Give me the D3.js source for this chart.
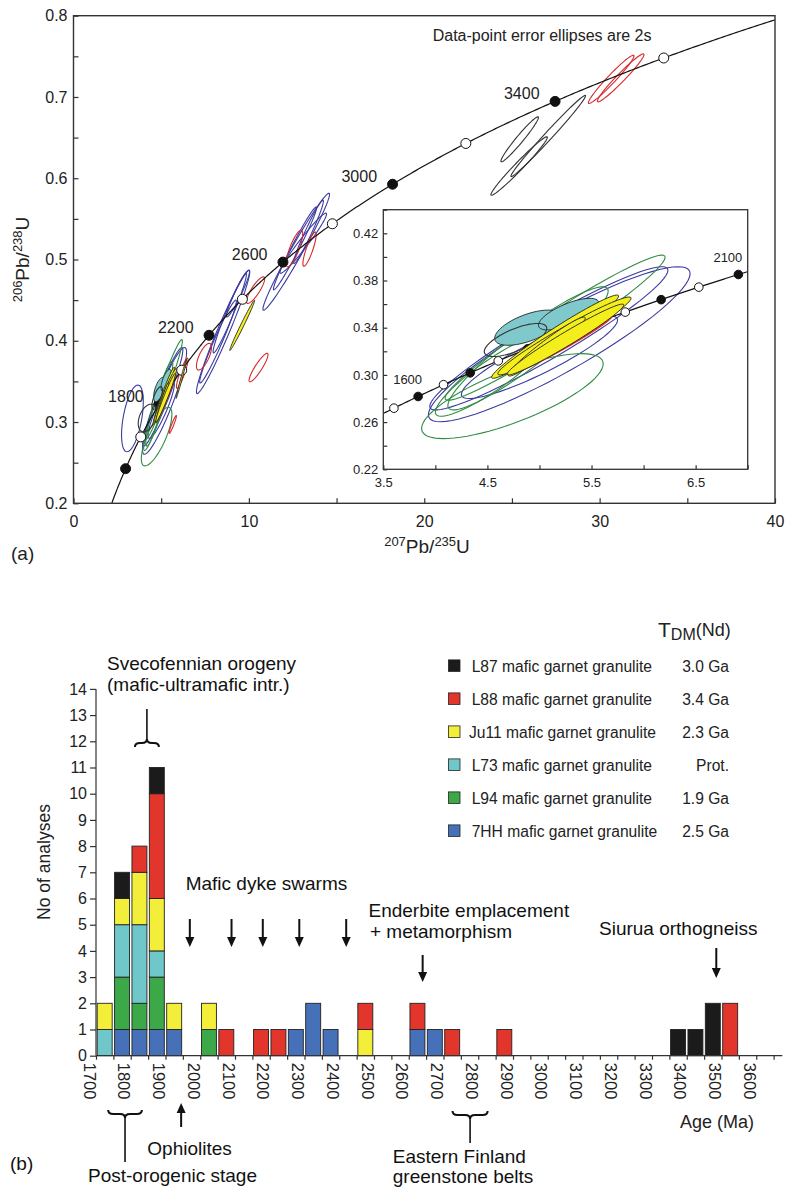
<!DOCTYPE html>
<html>
<head>
<meta charset="utf-8">
<script src="https://cdn.jsdelivr.net/npm/d3@7"></script>
<style>
body { margin: 0; background: #fff; }
svg { display: block; font-family: Arial, "Liberation Sans", Helvetica, sans-serif; }
</style>
</head>
<body>
<script>
// ---------- (a) concordia ----------
var lambda238 = 1.55125e-4, lambda235 = 9.8485e-4;   // decay constants, per Ma
var markerAges = [1400, 1600, 1800, 2000, 2200, 2400, 2600, 2800, 3000, 3200, 3400, 3600];
var labelAges = [1800, 2200, 2600, 3000, 3400];
var insetMarkerAges = [1550, 1600, 1650, 1700, 1750, 1800, 1850, 1900, 1950, 2000, 2050, 2100];
var insetLabelAges = [1600, 2100];
var xTicksMain = [0, 5, 10, 15, 20, 25, 30, 35, 40];
var yTicksMain = [0.2, 0.25, 0.3, 0.35, 0.4, 0.45, 0.5, 0.55, 0.6, 0.65, 0.7, 0.75, 0.8];
var xTicksInset = [3.5, 4, 4.5, 5, 5.5, 6, 6.5, 7];
var yTicksInset = [0.22, 0.24, 0.26, 0.28, 0.3, 0.32, 0.34, 0.36, 0.38, 0.4, 0.42, 0.44];

// ellipses: [207Pb/235U, 206Pb/238U, 2s x, 2s y, rho]
var clusterBlue = [[5.19, 0.326, 1.257, 0.0657, 0.91], [5.09, 0.331, 1.144, 0.0607, 0.95], [5.00, 0.315, 0.75, 0.035, 0.9]];
var clusterGreen = [[4.74, 0.282, 0.872, 0.036, 0.76], [5.15, 0.340, 1.057, 0.0615, 0.97],
                    [4.89, 0.3225, 0.77, 0.0522, 0.93], [4.55, 0.300, 0.55, 0.035, 0.9]];
var clusterCyan = [[4.89, 0.340, 0.32, 0.0149, 0.6], [5.28, 0.3515, 0.29, 0.0134, 0.7]];
var clusterBlack = [[4.77, 0.3296, 0.30, 0.014, 0.7]];
var clusterRed = [[5.2, 0.325, 0.5, 0.025, 0.98]];
var clusterYellow = [[5.15, 0.3324, 0.61, 0.0353, 0.975], [5.24, 0.333, 0.64, 0.033, 0.97],
                     [5.07, 0.324, 0.37, 0.025, 0.965], [5.25, 0.330, 0.56, 0.030, 0.975]];

var mainBlue = [[3.36, 0.3045, 0.62, 0.041, 0.5], [8.53, 0.411, 1.52, 0.076, 0.97], [8.24, 0.399, 1.045, 0.051, 0.97],
                [8.91, 0.434, 0.95, 0.049, 0.97], [9.38, 0.458, 0.66, 0.0287, 0.95], [12.7, 0.5095, 1.9, 0.072, 0.98],
                [12.63, 0.5136, 1.23, 0.051, 0.98], [13.1, 0.52, 1.33, 0.037, 0.97], [13.4, 0.534, 0.85, 0.039, 0.97]];
var mainBlack = [[4.21, 0.305, 0.52, 0.017, 0.4], [25.44, 0.6479, 1.07, 0.0277, 0.97],
                 [25.41, 0.615, 1.61, 0.036, 0.98], [27.07, 0.652, 2.13, 0.050, 0.99]];
var mainRed = [[5.66, 0.297, 0.21, 0.011, 0.95], [6.2, 0.36, 0.33, 0.0185, 0.9], [7.44, 0.3804, 0.43, 0.0164, 0.7],
               [10.38, 0.4623, 0.52, 0.0164, 0.85], [10.55, 0.367, 0.54, 0.0175, 0.9], [12.6, 0.5135, 0.47, 0.0225, 0.8],
               [13.46, 0.5127, 0.38, 0.021, 0.85], [30.66, 0.7217, 1.3, 0.0297, 0.97], [31.2, 0.7235, 1.33, 0.0295, 0.97]];
var mainYellow = [[6.15, 0.353, 0.3, 0.024, 0.99], [9.62, 0.419, 0.71, 0.031, 0.99]];

// ---------- (b) histogram ----------
var binStarts = [1700, 1750, 1800, 1850, 1900, 2000, 2050, 2150, 2200, 2250, 2300, 2350, 2450, 2600, 2650, 2700, 2850, 3350, 3400, 3450, 3500];
var s7HH = [0, 1, 1, 1, 1, 0, 0, 0, 0, 1, 2, 1, 0, 1, 1, 0, 0, 0, 0, 0, 0];
var sL94 = [0, 2, 1, 2, 0, 1, 0, 0, 0, 0, 0, 0, 0, 0, 0, 0, 0, 0, 0, 0, 0];
var sL73 = [1, 2, 3, 1, 0, 0, 0, 0, 0, 0, 0, 0, 0, 0, 0, 0, 0, 0, 0, 0, 0];
var sJu11 = [1, 1, 2, 2, 1, 1, 0, 0, 0, 0, 0, 0, 1, 0, 0, 0, 0, 0, 0, 0, 0];
var sL88 = [0, 0, 1, 4, 0, 0, 1, 1, 1, 0, 0, 0, 1, 1, 0, 1, 1, 0, 0, 0, 2];
var sL87 = [0, 1, 0, 1, 0, 0, 0, 0, 0, 0, 0, 0, 0, 0, 0, 0, 0, 1, 1, 2, 0];
var sampleKeys = ["7HH", "L94", "L73", "Ju11", "L88", "L87"];
var sampleColors = { "L87": "#1b1b1b", "L88": "#e2352c", "Ju11": "#f2ee3a", "L73": "#70c7c9", "L94": "#3ca848", "7HH": "#4670b8" };
var legendKeys = ["L87", "L88", "Ju11", "L73", "L94", "7HH"];
var legendTdm = ["3.0 Ga", "3.4 Ga", "2.3 Ga", "Prot.", "1.9 Ga", "2.5 Ga"];
var ageTicks = [1700, 1750, 1800, 1850, 1900, 1950, 2000, 2050, 2100, 2150, 2200, 2250, 2300, 2350, 2400, 2450, 2500,
                2550, 2600, 2650, 2700, 2750, 2800, 2850, 2900, 2950, 3000, 3050, 3100, 3150, 3200, 3250, 3300, 3350,
                3400, 3450, 3500, 3550, 3600, 3650];
var countTicks = [0, 1, 2, 3, 4, 5, 6, 7, 8, 9, 10, 11, 12, 13, 14];
var dykeAges = [1970, 2090, 2180, 2285, 2420];

function r206(t) { return Math.exp(lambda238 * t) - 1; }
function r207(t) { return Math.exp(lambda235 * t) - 1; }

function ellipsePath(e, xs, ys) {
    var pts = d3.range(72).map(function(i) {
        var a = i / 72 * 2 * Math.PI, c = Math.cos(a), s = Math.sin(a);
        return [xs(e[0] + e[2] * c), ys(e[1] + e[3] * (e[4] * c + Math.sqrt(1 - e[4] * e[4]) * s))];
    });
    return d3.line().curve(d3.curveLinearClosed)(pts);
}

function drawEllipses(g, data, xs, ys, stroke, fill) {
    g.append("g").selectAll("path")
        .data(data)
        .enter()
        .append("path")
        .attr("d", function(d) { return ellipsePath(d, xs, ys); })
        .attr("fill", fill || "none")
        .attr("stroke", stroke)
        .attr("stroke-width", fill ? 0.9 : 1.1);
}

function styleAxis(g, size) {
    g.select(".domain").remove();
    g.selectAll("line").attr("stroke", "#333").attr("stroke-width", 1.2);
    g.selectAll("text").attr("fill", "#222").style("font-size", size + "px")
        .style("font-family", "Arial, 'Liberation Sans', sans-serif");
}

function supLabel(t, parts) {
    parts.forEach(function(p) {
        t.append("tspan").style("font-size", p[1] ? "13px" : "19px")
            .attr("dy", p[2]).text(p[0]);
    });
}

function concordiaLayer(g, xs, ys, ages, markers, r, isFilled) {
    g.append("path")
        .attr("d", d3.line().x(function(t) { return xs(r207(t)); }).y(function(t) { return ys(r206(t)); })(ages))
        .attr("fill", "none").attr("stroke", "#111").attr("stroke-width", 1.2);
    g.append("g").selectAll("circle").data(markers).enter().append("circle")
        .attr("cx", function(t) { return xs(r207(t)); })
        .attr("cy", function(t) { return ys(r206(t)); })
        .attr("r", r)
        .attr("fill", function(t) { return isFilled(t) ? "#111" : "#fff"; })
        .attr("stroke", "#111").attr("stroke-width", 1);
}

function drawConcordia(svg) {
    var x = d3.scaleLinear().domain([0, 40]).range([73.5, 775]);
    var y = d3.scaleLinear().domain([0.2, 0.8]).range([503.3, 15.7]);
    var g = svg.append("g");

    g.append("clipPath").attr("id", "clipMain").append("rect")
        .attr("x", x(0)).attr("y", y(0.8)).attr("width", x(40) - x(0)).attr("height", y(0.2) - y(0.8));

    var plot = g.append("g").attr("clip-path", "url(#clipMain)");
    drawEllipses(plot, mainBlue.concat(clusterBlue), x, y, "#3b3ba0");
    drawEllipses(plot, clusterGreen, x, y, "#2f8c44");
    drawEllipses(plot, mainRed, x, y, "#d8282a");
    concordiaLayer(plot, x, y, d3.range(1100, 3800, 5), markerAges, 5, function(t) { return t % 400 === 200; });
    drawEllipses(plot, clusterCyan, x, y, "#222", "#7fc9cc");
    drawEllipses(plot, mainBlack.concat(clusterBlack), x, y, "#333");
    drawEllipses(plot, clusterRed, x, y, "#d8282a", "#e0302c");
    drawEllipses(plot, mainYellow.concat(clusterYellow), x, y, "#222", "#f4ef1c");

    g.selectAll("text.age").data(labelAges).enter().append("text")
        .attr("x", function(t) { return x(r207(t)) - 15.5; })
        .attr("y", function(t) { return y(r206(t)) - 2.5; })
        .attr("text-anchor", "end").style("font-size", "16px").attr("fill", "#222")
        .text(function(t) { return t; });

    g.append("text").attr("x", 432.7).attr("y", 40.7).style("font-size", "16px").attr("fill", "#222")
        .text("Data-point error ellipses are 2s");

    g.append("g").attr("transform", "translate(0," + y(0.2) + ")")
        .call(d3.axisBottom(x).tickValues(xTicksMain).tickSizeInner(-5).tickSizeOuter(0).tickPadding(12)
            .tickFormat(function(d) { return d % 10 === 0 ? d : ""; }))
        .call(styleAxis, 16);
    g.append("g").attr("transform", "translate(" + x(0) + ",0)")
        .call(d3.axisLeft(y).tickValues(yTicksMain).tickSizeInner(-5).tickSizeOuter(0).tickPadding(6)
            .tickFormat(function(d) { return Math.round(d * 100) % 10 === 0 ? d3.format(".1f")(d) : ""; }))
        .call(styleAxis, 16);
    g.append("rect").attr("x", x(0)).attr("y", y(0.8)).attr("width", x(40) - x(0)).attr("height", y(0.2) - y(0.8))
        .attr("fill", "none").attr("stroke", "#333").attr("stroke-width", 1.4);

    var yl = g.append("text").attr("transform", "translate(29,259.5) rotate(-90)").attr("text-anchor", "middle").attr("fill", "#222");
    supLabel(yl, [["206", true, -7], ["Pb/", false, 7], ["238", true, -7], ["U", false, 7]]);
    var xl = g.append("text").attr("x", 427).attr("y", 553).attr("text-anchor", "middle").attr("fill", "#222");
    supLabel(xl, [["207", true, -7], ["Pb/", false, 7], ["235", true, -7], ["U", false, 7]]);
    g.append("text").attr("x", 11).attr("y", 560).style("font-size", "19px").attr("fill", "#222").text("(a)");

    // inset
    var xi = d3.scaleLinear().domain([3.5, 7.0]).range([383.3, 747.7]);
    var yi = d3.scaleLinear().domain([0.22, 0.44]).range([469.3, 209.7]);
    var gi = g.append("g");
    gi.append("rect").attr("x", xi(3.5)).attr("y", yi(0.44)).attr("width", xi(7) - xi(3.5)).attr("height", yi(0.22) - yi(0.44))
        .attr("fill", "#fff");
    gi.append("clipPath").attr("id", "clipInset").append("rect")
        .attr("x", xi(3.5)).attr("y", yi(0.44)).attr("width", xi(7) - xi(3.5)).attr("height", yi(0.22) - yi(0.44));
    var ip = gi.append("g").attr("clip-path", "url(#clipInset)");
    drawEllipses(ip, clusterBlue, xi, yi, "#3b3ba0");
    drawEllipses(ip, clusterGreen, xi, yi, "#2f8c44");
    concordiaLayer(ip, xi, yi, d3.range(1450, 2200, 2), insetMarkerAges, 4.3, function(t) { return t % 100 === 0; });
    drawEllipses(ip, clusterCyan, xi, yi, "#222", "#7fc9cc");
    drawEllipses(ip, clusterBlack, xi, yi, "#333");
    drawEllipses(ip, clusterRed, xi, yi, "#d8282a", "#e0302c");
    drawEllipses(ip, clusterYellow, xi, yi, "#222", "#f4ef1c");

    gi.selectAll("text.ia").data(insetLabelAges).enter().append("text")
        .attr("x", function(t) { return xi(r207(t)) - 10.5; })
        .attr("y", function(t) { return yi(r206(t)) - 12; })
        .attr("text-anchor", "middle").style("font-size", "13px").attr("fill", "#222")
        .text(function(t) { return t; });

    gi.append("g").attr("transform", "translate(0," + yi(0.22) + ")")
        .call(d3.axisBottom(xi).tickValues(xTicksInset).tickSizeInner(-4).tickSizeOuter(0).tickPadding(8)
            .tickFormat(function(d) { return (d * 10) % 10 === 5 && d < 7 ? d3.format(".1f")(d) : ""; }))
        .call(styleAxis, 13);
    gi.append("g").attr("transform", "translate(" + xi(3.5) + ",0)")
        .call(d3.axisLeft(yi).tickValues(yTicksInset).tickSizeInner(-4).tickSizeOuter(0).tickPadding(5)
            .tickFormat(function(d) { return Math.round(d * 100) % 4 === 2 && d < 0.44 ? d3.format(".2f")(d) : ""; }))
        .call(styleAxis, 13);
    gi.append("rect").attr("x", xi(3.5)).attr("y", yi(0.44)).attr("width", xi(7) - xi(3.5)).attr("height", yi(0.22) - yi(0.44))
        .attr("fill", "none").attr("stroke", "#333").attr("stroke-width", 1.3);
}

function arrow(g, x0, yTail, yTip) {
    var dir = yTip > yTail ? 1 : -1;
    g.append("line").attr("x1", x0).attr("x2", x0).attr("y1", yTail).attr("y2", yTip - dir * 8)
        .attr("stroke", "#111").attr("stroke-width", 2);
    g.append("path").attr("d", "M" + (x0 - 4.5) + "," + (yTip - dir * 10) + "L" + (x0 + 4.5) + "," + (yTip - dir * 10) +
        "L" + x0 + "," + yTip + "Z").attr("fill", "#111");
}

// curly brace; dir -1 = tip points up, +1 = tip points down
function brace(g, x0, x1, yEnd, dir, stemTo) {
    var cx = (x0 + x1) / 2, yMid = yEnd + dir * 4, yTip = yEnd + dir * 8, q = 5;
    var d = "M" + x0 + "," + yEnd + "Q" + x0 + "," + yMid + " " + (x0 + q) + "," + yMid +
        "L" + (cx - q) + "," + yMid + "Q" + cx + "," + yMid + " " + cx + "," + yTip +
        "Q" + cx + "," + yMid + " " + (cx + q) + "," + yMid +
        "L" + (x1 - q) + "," + yMid + "Q" + x1 + "," + yMid + " " + x1 + "," + yEnd;
    g.append("path").attr("d", d).attr("fill", "none").attr("stroke", "#111").attr("stroke-width", 2);
    g.append("line").attr("x1", cx).attr("x2", cx).attr("y1", yTip).attr("y2", stemTo)
        .attr("stroke", "#111").attr("stroke-width", 1.6);
}

function drawHistogram(svg) {
    var x = d3.scaleLinear().domain([1700, 3700]).range([96, 791]);
    var y = d3.scaleLinear().domain([0, 14]).range([1055.7, 688.9]);
    var g = svg.append("g");

    var rows = binStarts.map(function(b, i) {
        return { start: b, "7HH": s7HH[i], "L94": sL94[i], "L73": sL73[i], "Ju11": sJu11[i], "L88": sL88[i], "L87": sL87[i] };
    });
    var series = d3.stack().keys(sampleKeys)(rows);

    g.selectAll("g.layer").data(series).enter().append("g")
        .attr("fill", function(s) { return sampleColors[s.key]; })
        .selectAll("rect")
        .data(function(s) { return s.filter(function(d) { return d[1] > d[0]; }); })
        .enter()
        .append("rect")
        .attr("x", function(d) { return x(d.data.start) + 1.2; })
        .attr("width", function(d) { return x(d.data.start + 50) - x(d.data.start) - 2.4; })
        .attr("y", function(d) { return y(d[1]); })
        .attr("height", function(d) { return y(d[0]) - y(d[1]); })
        .attr("stroke", "#222").attr("stroke-width", 0.9);

    var xa = g.append("g").attr("transform", "translate(0," + y(0) + ")")
        .call(d3.axisBottom(x).tickValues(ageTicks).tickSizeInner(4).tickSizeOuter(0)
            .tickFormat(function(d) { return d % 100 === 0 ? d : ""; }))
        .call(styleAxis, 16.5);
    xa.selectAll("text").attr("transform", "rotate(90)").attr("x", 7).attr("y", 12.8).attr("dy", 0)
        .attr("text-anchor", "start");
    g.append("line").attr("x1", x(1700)).attr("x2", x(3675)).attr("y1", y(0)).attr("y2", y(0))
        .attr("stroke", "#333").attr("stroke-width", 1.2);

    g.append("g").attr("transform", "translate(" + x(1700) + ",0)")
        .call(d3.axisLeft(y).tickValues(countTicks).tickSizeInner(6).tickSizeOuter(0).tickPadding(3))
        .call(styleAxis, 16);
    g.append("line").attr("x1", x(1700)).attr("x2", x(1700)).attr("y1", y(0)).attr("y2", y(14))
        .attr("stroke", "#333").attr("stroke-width", 1.2);

    g.append("text").attr("transform", "translate(50,862) rotate(-90)").attr("text-anchor", "middle")
        .style("font-size", "17.5px").attr("fill", "#222").text("No of analyses");
    g.append("text").attr("x", 680).attr("y", 1128).style("font-size", "18px").attr("fill", "#222").text("Age (Ma)");

    // legend
    var lg = g.append("g");
    var tt = lg.append("text").attr("x", 658).attr("y", 637).attr("fill", "#222");
    tt.append("tspan").style("font-size", "21px").text("T");
    tt.append("tspan").style("font-size", "16px").attr("dy", 3).text("DM");
    tt.append("tspan").style("font-size", "18px").attr("dy", -4).text("(Nd)");
    legendKeys.forEach(function(k, i) {
        var cy = 665.7 + i * 33;
        lg.append("rect").attr("x", 448.5).attr("y", cy - 5.8).attr("width", 11.5).attr("height", 11.5)
            .attr("fill", sampleColors[k]).attr("stroke", "#222").attr("stroke-width", 0.8);
        lg.append("text").attr("x", k === "Ju11" ? 469 : 471.7).attr("y", cy + 6).style("font-size", "15.6px")
            .attr("fill", "#222").text(k + " mafic garnet granulite");
        lg.append("text").attr("x", 729).attr("y", cy + 6).attr("text-anchor", "end").style("font-size", "15.6px")
            .attr("fill", "#222").text(legendTdm[i]);
    });

    // annotations
    var an = g.append("g").style("font-size", "19px").attr("fill", "#111");
    an.append("text").attr("x", 107).attr("y", 670).text("Svecofennian orogeny");
    an.append("text").attr("x", 107).attr("y", 691).text("(mafic-ultramafic intr.)");
    brace(an, x(1812), x(1881), 747, -1, 709);
    an.append("text").attr("x", 185.7).attr("y", 890).text("Mafic dyke swarms");
    dykeAges.forEach(function(a) { arrow(an, x(a), 919, 947); });
    an.append("text").attr("x", 368.5).attr("y", 917).text("Enderbite emplacement");
    an.append("text").attr("x", 370).attr("y", 938).text("+ metamorphism");
    arrow(an, x(2640), 955, 982);
    an.append("text").attr("x", 599).attr("y", 935).text("Siurua orthogneiss");
    arrow(an, x(3485), 948, 978);
    brace(an, x(1735), x(1832), 1110, 1, 1162);
    arrow(an, x(1945), 1127, 1103);
    an.append("text").attr("x", 147.3).attr("y", 1155).text("Ophiolites");
    an.append("text").attr("x", 88).attr("y", 1182).text("Post-orogenic stage");
    brace(an, x(2726), x(2827), 1111, 1, 1143);
    an.append("text").attr("x", 392.8).attr("y", 1163).text("Eastern Finland");
    an.append("text").attr("x", 392.8).attr("y", 1183).text("greenstone belts");
    an.append("text").attr("x", 10).attr("y", 1170).text("(b)");
}

function main() {
    var svg = d3.select("body").append("svg").attr("width", 787).attr("height", 1189);
    svg.append("rect").attr("width", 787).attr("height", 1189).attr("fill", "#fff");
    drawConcordia(svg);
    drawHistogram(svg);
}

window.onload = main;
</script>
</body>
</html>
